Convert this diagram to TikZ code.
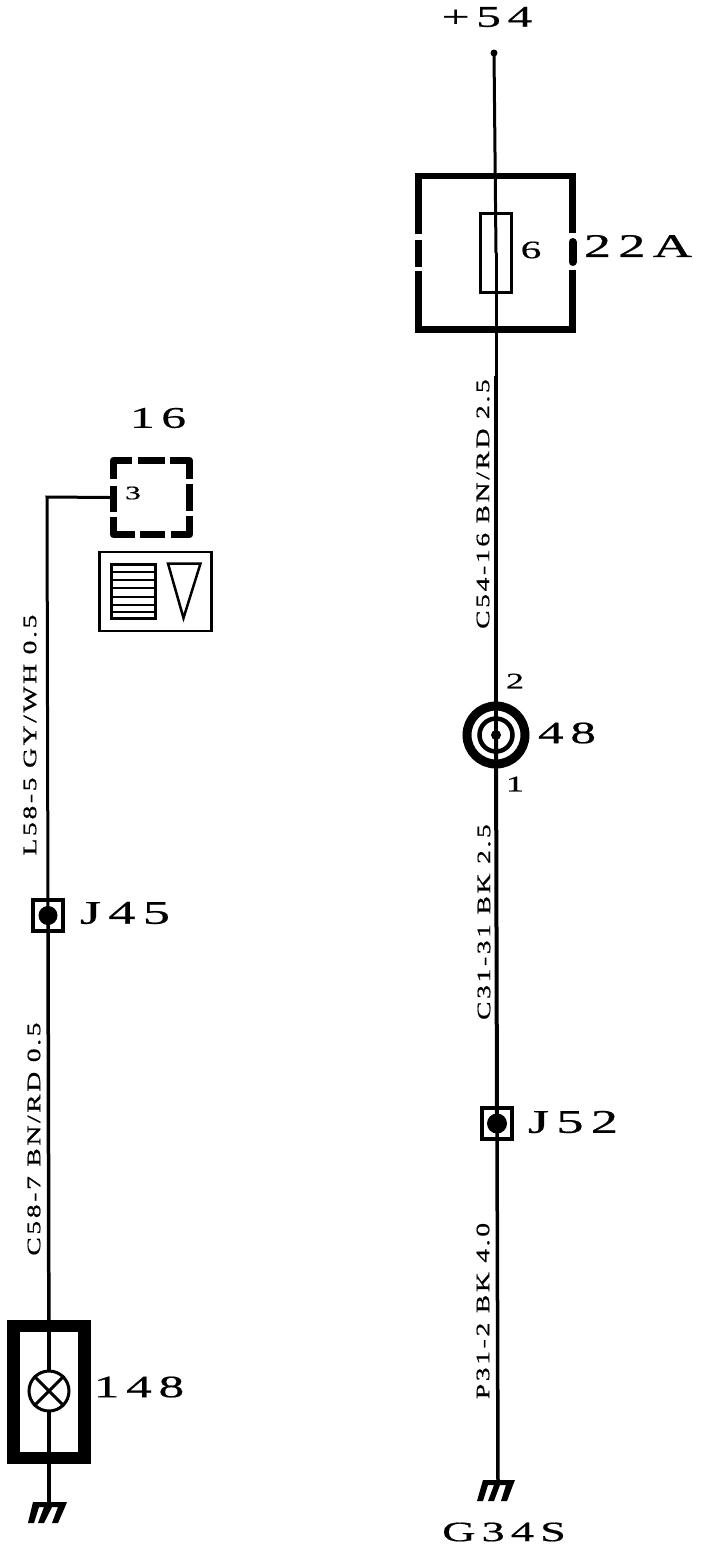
\documentclass[tikz,border=0pt]{standalone}
\usepackage{fontspec}
\newfontfamily\widefont[FakeStretch=1.65,LetterSpace=22,FakeBold=0.6]{Liberation Serif}
\newfontfamily\wirefont[FakeStretch=1.45,LetterSpace=14,FakeBold=0.8]{Liberation Serif}
\newcommand{\fsz}[1]{\fontsize{#1}{#1}\widefont\selectfont}
\newcommand{\wsz}[1]{\fontsize{#1}{#1}\wirefont\selectfont}
\tikzset{
  lab/.style={inner sep=0pt,font=\fsz{#1}},
  wirelab/.style={inner sep=0pt,rotate=90,font=\wsz{19}},
  wire/.style={line width=#1,line cap=butt},
  wire/.default=3pt,
  heavy/.style={line width=#1,line cap=butt,line join=miter},
  anchorbox/.style={inner sep=0pt,draw=none},
  junction/.style={draw,line width=4.5pt,inner sep=0pt,minimum width=30pt,minimum height=31pt,fill=white},
  blob/.style={circle,fill=black,inner sep=0pt,minimum size=#1}
}
\begin{document}
\begin{tikzpicture}[x=1pt,y=-1pt]
\useasboundingbox (0,0) rectangle (704,1548);
\fill[white] (0,0) rectangle (704,1548);

% ---------- named places
\node[blob=7pt] (plus) at (494,53) {};
\node[anchorbox,minimum width=159pt,minimum height=157pt] (fusebox) at (496,253) {};
\node[draw,line width=3pt,inner sep=0pt,minimum width=31pt,minimum height=79pt] (fuse) at (495.5,252.5) {};
\node[circle,draw,line width=9pt,inner sep=0pt,minimum size=58pt] (c48) at (496,735) {};
\node[circle,draw,line width=4.5pt,inner sep=0pt,minimum size=33pt] (c48i) at (496,735) {};
\node[junction] (j52) at (497,1123.5) {};
\node[junction] (j45) at (48,915.5) {};
\node[anchorbox,minimum width=83pt,minimum height=81pt] (d16) at (151.5,497.5) {};
\coordinate (bend) at (47,497);
\node[anchorbox,minimum width=84pt,minimum height=144pt] (lamp) at (49,1392) {};
\coordinate (g1) at (49,1503);
\coordinate (g2) at (498,1481);

% ---------- wires
\draw[wire=3pt] (plus.center) -- (fusebox.center);
\draw[wire=3pt] (fusebox.center) -- (496,376);
\draw[wire=4pt] (496,376) -- (c48.center);
\draw[wire=4pt] (c48.center) -- (j52.center);
\draw[wire=3.5pt] (j52.center) -- (g2);
\draw[wire=3pt] (d16.west) -- (bend) -- (j45.center);
\draw[wire=3.5pt] (j45.center) -- (lamp.center);
\draw[wire=3.5pt] (lamp.center) -- (g1);

% ---------- fuse box outline with gaps
\draw[heavy=6.5pt] (418.5,234) -- (418.5,176) -- (572.5,176) -- (572.5,233);
\draw[heavy=6.5pt] (418.5,240) -- (418.5,267);
\draw[heavy=6.5pt] (418.5,271) -- (418.5,329.5) -- (572.5,329.5) -- (572.5,270);
\draw[heavy=8pt,line cap=round] (572.5,242) -- (572.5,262);

% ---------- connector 48 and junction dots
\node[blob=10pt] at (c48.center) {};
\node[blob=20pt] at (j52.center) {};
\node[blob=19pt] at (j45.center) {};

% ---------- dashed box 16
\draw[heavy=7pt,line join=round] (113.5,479) -- (113.5,460.5) -- (132,460.5);
\draw[heavy=7pt] (138,460.5) -- (165,460.5);
\draw[heavy=7pt,line join=round] (170,460.5) -- (189.5,460.5) -- (189.5,479);
\draw[heavy=7pt] (113.5,486) -- (113.5,512);
\draw[heavy=7pt] (189.5,484) -- (189.5,511);
\draw[heavy=7pt,line join=round] (113.5,517) -- (113.5,534.5) -- (135,534.5);
\draw[heavy=7pt] (140,534.5) -- (165,534.5);
\draw[heavy=7pt,line join=round] (171,534.5) -- (189.5,534.5) -- (189.5,516);

% ---------- symbol panel
\node[draw,line width=2.5pt,inner sep=0pt,minimum width=112pt,minimum height=79pt] (panel) at (155.5,591.5) {};
\node[draw,line width=3pt,inner sep=0pt,minimum width=44pt,minimum height=54pt] (list) at (133.5,591.5) {};
\foreach \yy in {572,580,588,597,605,612}
  \draw[line width=2.5pt] (list.west |- 0,\yy) -- (list.east |- 0,\yy);
\draw[line width=2.5pt,line join=miter] (168,563.5) -- (200.5,563.5) -- (183.5,618) -- cycle;

% ---------- lamp
\draw[heavy=12.5pt] (13.5,1326) rectangle (84.5,1458);
\node[circle,draw,fill=white,line width=3pt,inner sep=0pt,minimum size=40pt] (bulb) at (49,1391) {};
\draw[line width=3pt] (bulb.north west) -- (bulb.south east);
\draw[line width=3pt] (bulb.north east) -- (bulb.south west);
\draw[wire=3.5pt] (lamp.north) -- (bulb.north);
\draw[wire=3.5pt] (bulb.south) -- (lamp.south);

% ---------- grounds
\fill (33,1502) -- (67,1502) -- (65,1507) -- (58,1523) -- (52,1523) -- (58,1507)
  -- (52,1507) -- (44,1523) -- (38,1523) -- (44,1507) -- (39,1507) -- (34,1523) -- (28,1523) -- cycle;
\fill (483,1480) -- (515,1480) -- (513,1485) -- (507,1501) -- (501,1501) -- (506,1485)
  -- (500,1485) -- (494,1501) -- (488,1501) -- (494,1485) -- (488,1485) -- (483,1501) -- (477,1501) -- cycle;

% ---------- labels
\node[lab=30] (t54) at (487,17) {+54};
\node[lab=33] (t22a) at (638,246) {22A};
\node[lab=25] (t6) at (531,250) {6};
\node[lab=30] (t16) at (158,418) {16};
\node[lab=19] (t3) at (133,493) {3};
\node[lab=31] (t148) at (139,1387) {148};
\node[lab=31] (t48) at (567,733) {48};
\node[lab=22] (t2) at (515,681) {2};
\node[lab=22] (t1) at (515,784) {1};
\node[lab=33] (tj45) at (125,913) {J45};
\node[lab=33] (tj52) at (573,1122) {J52};
\node[lab=28] (tg) at (504,1532) {G34S};
\node[wirelab] (w1) at (483,504) {C54-16 BN/RD 2.5};
\node[wirelab] (w2) at (484,922) {C31-31 BK 2.5};
\node[wirelab] (w3) at (483,1311) {P31-2 BK 4.0};
\node[wirelab] (w4) at (30,735) {L58-5 GY/WH 0.5};
\node[wirelab] (w5) at (34,1139) {C58-7 BN/RD 0.5};
\end{tikzpicture}
\end{document}
